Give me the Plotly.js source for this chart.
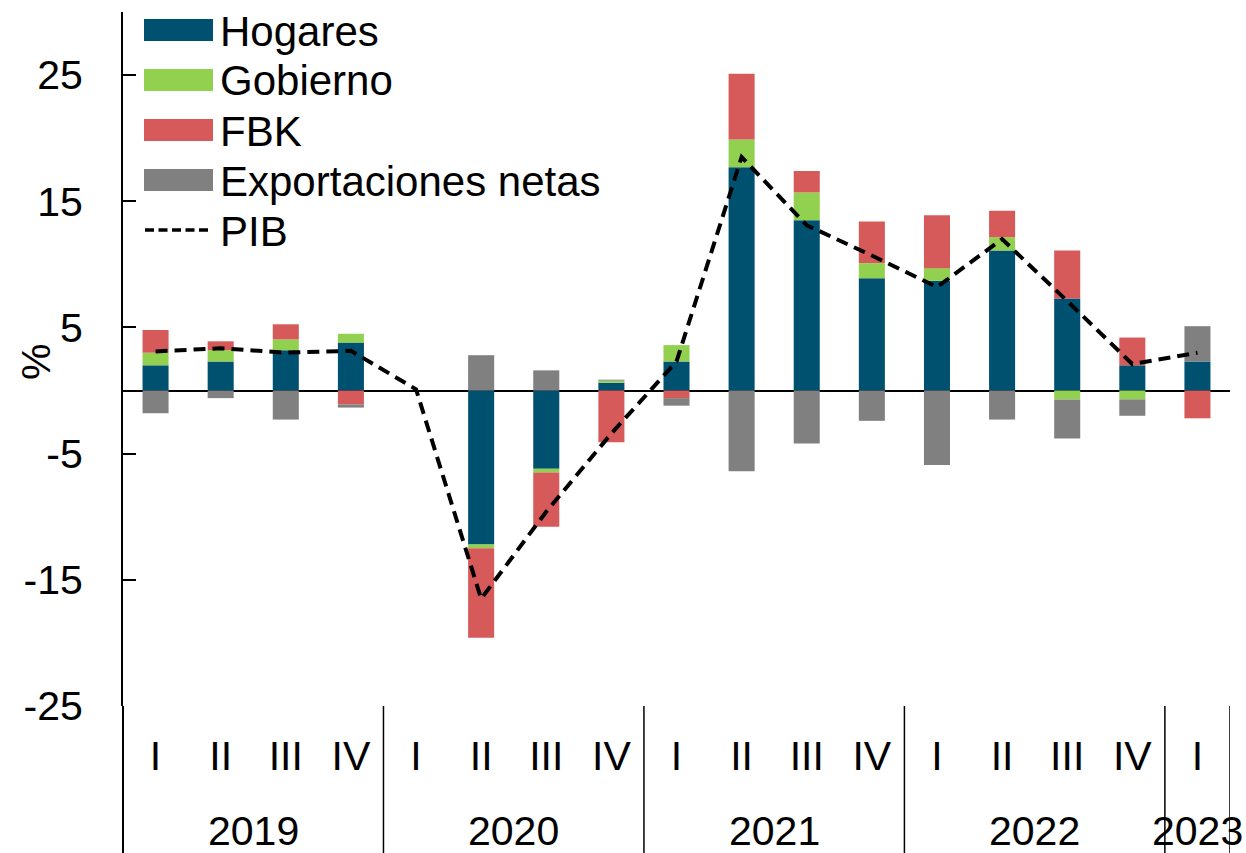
<!DOCTYPE html>
<html>
<head>
<meta charset="utf-8">
<script src="https://cdn.plot.ly/plotly-3.0.1.min.js"></script>
<style>
  html, body { margin: 0; padding: 0; background: #ffffff; }
  #chart { width: 1246px; height: 853px; }
</style>
</head>
<body>
<div id="chart"></div>
<script>
// ---- data (percentage-point contributions, y/y %) ----
const years    = ["2019","2019","2019","2019","2020","2020","2020","2020","2021","2021","2021","2021","2022","2022","2022","2022","2023"];
const quarters = ["I","II","III","IV","I","II","III","IV","I","II","III","IV","I","II","III","IV","I"];

const hogares     = [2.0, 2.3, 3.2, 3.8, null, -12.2, -6.2, 0.62, 2.3, 17.7, 13.5, 8.9, 8.7, 11.1, 7.3, 2.0, 2.3];
const gobierno    = [1.0, 0.9, 0.85, 0.7, null, -0.3, -0.3, 0.16, 1.3, 2.2, 2.2, 1.2, 1.0, 1.05, -0.7, -0.7, 0];
const fbk         = [1.8, 0.7, 1.2, -1.1, null, -7.1, -4.3, -4.1, -0.6, 5.2, 1.7, 3.3, 4.2, 2.1, 3.8, 2.2, -2.2];
const exportaciones = [-1.8, -0.6, -2.3, -0.25, null, 2.8, 1.6, 0.08, -0.6, -6.4, -4.2, -2.4, -5.9, -2.3, -3.1, -1.3, 2.8];
const pib         = [3.1, 3.35, 3.0, 3.15, 0.1, -16.5, -9.6, -3.4, 2.3, 18.5, 13.1, 10.7, 8.2, 12.0, 7.1, 2.1, 3.0];

const seriesNames  = ["Hogares", "Gobierno", "FBK", "Exportaciones netas", "PIB"];
const seriesColors = ["#005170", "#92D050", "#D65A5A", "#808080", "#000000"];
const yTicks = [-25, -15, -5, 5, 15, 25];

// ---- traces (category positions = index of each quarter) ----
const xi = quarters.map((q, i) => i);
const barSeries = [hogares, gobierno, fbk, exportaciones];
const traces = barSeries.map((vals, i) => ({
  type: "bar",
  name: seriesNames[i],
  x: xi,
  y: vals,
  width: 0.4,
  marker: { color: seriesColors[i], line: { width: 0 } },
  showlegend: false
}));
traces.push({
  type: "scatter",
  mode: "lines",
  name: seriesNames[4],
  x: xi,
  y: pib,
  line: { color: "#000000", width: 4, dash: "12px,7px" },
  showlegend: false
});

// ---- plot geometry (pixels) ----
const W = 1246, H = 853;
const M = { l: 123, r: 16, t: 12, b: 147 };
const pw = W - M.l - M.r, ph = H - M.t - M.b;
const px = v => (v - M.l) / pw;        // page px -> paper x
const py = v => (H - M.b - v) / ph;    // page px -> paper y

const FONT = "Liberation Sans, Arial, sans-serif";

const shapes = [];
const annotations = [];

// custom legend (large swatches like the original)
seriesNames.forEach((name, i) => {
  const cy = 30 + 50 * i;
  if (i < 4) {
    shapes.push({
      type: "rect", xref: "paper", yref: "paper",
      x0: px(144), x1: px(213), y0: py(cy + 11), y1: py(cy - 11),
      fillcolor: seriesColors[i], line: { width: 0 }
    });
  } else {
    shapes.push({
      type: "line", xref: "paper", yref: "paper",
      x0: px(145), x1: px(212), y0: py(cy), y1: py(cy),
      line: { color: seriesColors[i], width: 3.5, dash: "9px,4.5px" }
    });
  }
  annotations.push({
    xref: "paper", yref: "paper", x: px(218), y: py(cy + 1),
    xanchor: "left", yanchor: "middle", showarrow: false,
    text: name, font: { family: FONT, size: 42, color: "#000000" }
  });
});

// year groups: labels centred on their quarters, dividers at group edges
const groups = [];
years.forEach((y, i) => {
  const g = groups[groups.length - 1];
  if (g && g.year === y) g.last = i; else groups.push({ year: y, first: i, last: i });
});
groups.forEach((g, k) => {
  annotations.push({
    xref: "x", yref: "paper", x: (g.first + g.last) / 2, y: py(831),
    xanchor: "center", yanchor: "middle", showarrow: false,
    text: g.year, font: { family: FONT, size: 41, color: "#000000" }
  });
  if (k > 0) {
    shapes.push({
      type: "line", xref: "x", yref: "paper",
      x0: g.first - 0.5, x1: g.first - 0.5, y0: 0, y1: py(H),
      line: { color: "#000000", width: 1.5 }
    });
  }
});
const lastG = groups[groups.length - 1];
shapes.push({
  type: "line", xref: "x", yref: "paper",
  x0: lastG.last + 0.5, x1: lastG.last + 0.5, y0: 0, y1: py(H),
  line: { color: "#000000", width: 1.5 }
});

// y-axis line continued down through the category labels
shapes.push({
  type: "line", xref: "paper", yref: "paper",
  x0: 0, x1: 0, y0: 0, y1: py(H),
  line: { color: "#000000", width: 2 }
});

// "%" axis label
annotations.push({
  xref: "paper", yref: "paper", x: px(36), y: py(362),
  xanchor: "center", yanchor: "middle", showarrow: false, textangle: -90,
  text: "%", font: { family: FONT, size: 41, color: "#000000" }
});

const layout = {
  width: W, height: H,
  margin: M,
  paper_bgcolor: "#ffffff",
  plot_bgcolor: "#ffffff",
  barmode: "relative",
  showlegend: false,
  font: { family: FONT, size: 41, color: "#000000" },
  xaxis: {
    type: "linear",
    range: [-0.5, quarters.length - 0.5],
    tickvals: xi,
    ticktext: quarters,
    showgrid: false,
    zeroline: false,
    showline: false,
    ticks: "",
    ticklabelstandoff: 22,
    tickfont: { family: FONT, size: 41, color: "#000000" },
    automargin: false
  },
  yaxis: {
    range: [-25, 30],
    tickvals: yTicks,
    ticktext: yTicks.map(String),
    ticks: "inside",
    ticklen: 13,
    tickwidth: 2,
    tickcolor: "#000000",
    showline: true,
    linecolor: "#000000",
    linewidth: 2,
    showgrid: false,
    zeroline: true,
    zerolinecolor: "#000000",
    zerolinewidth: 2,
    ticklabelstandoff: 30,
    tickfont: { family: FONT, size: 41, color: "#000000" },
    automargin: false
  },
  shapes: shapes,
  annotations: annotations
};

Plotly.newPlot("chart", traces, layout, { staticPlot: true, displayModeBar: false });
</script>
</body>
</html>
